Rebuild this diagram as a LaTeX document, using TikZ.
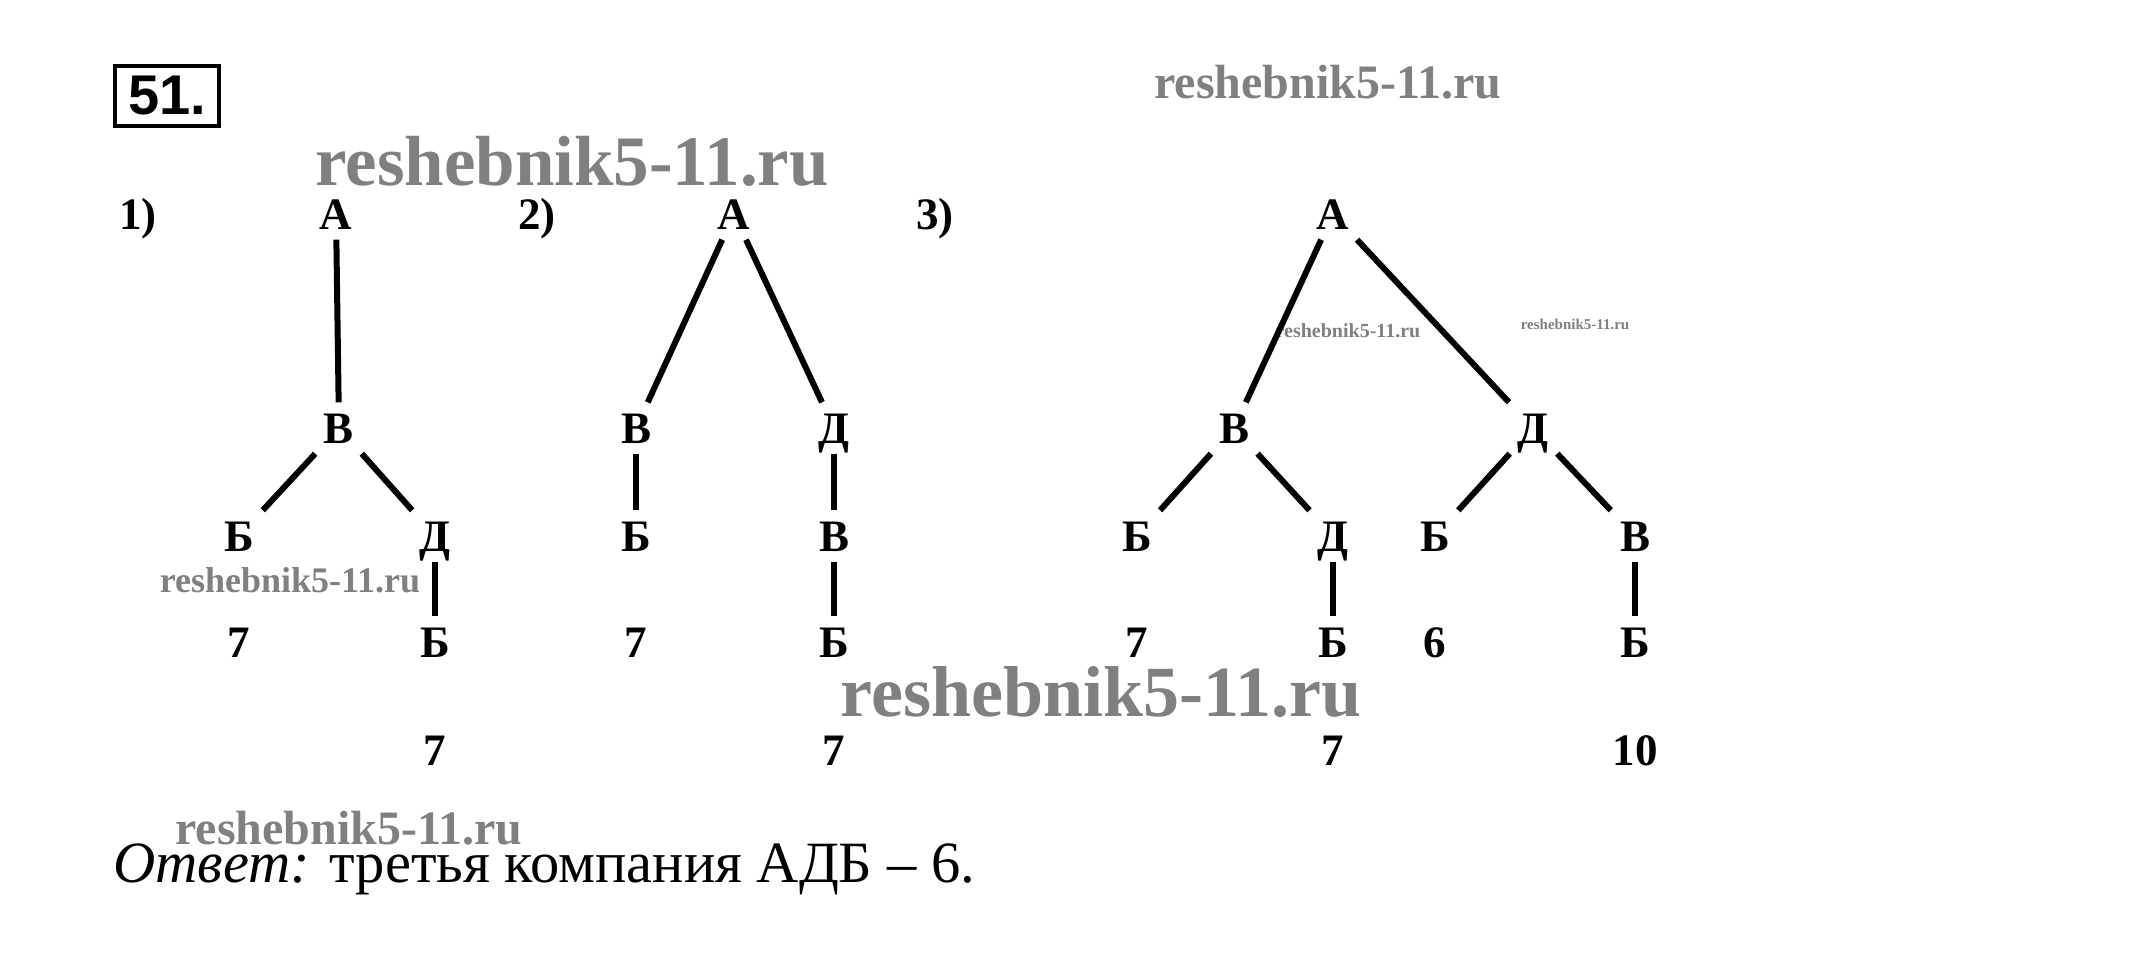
\documentclass[tikz,border=0pt]{standalone}
\usepackage{fontspec}
\setmainfont{Liberation Serif}
\newfontfamily\boxfont{Liberation Sans}
\newcommand*{\WmText}{reshebnik5-11.ru}

\begin{document}
\begin{tikzpicture}[x=1pt,y=-1pt,
    lt/.style={font=\fontsize{45}{45}\selectfont\bfseries, text height=31pt, text depth=0pt, inner sep=10pt},
    edge/.style={line width=6pt},
    wm/.style={text=black!50, font=\fontsize{#1}{#1}\selectfont\bfseries, inner sep=0pt}]
    \useasboundingbox (0,0) rectangle (2143,958);

    \node[draw, line width=4.5pt, minimum width=104pt, minimum height=60pt,
          font=\boxfont\fontsize{56}{56}\selectfont\bfseries, inner sep=0pt] (num) at (167,96) {51.};

    % watermarks
    \node[wm=48] (wmtop) at (1328,82) {\WmText};
    \node[wm=71] (wmbig) at (572,161) {\WmText};
    \node[wm=20] (wmsa) at (1348,331) {\WmText};
    \node[wm=15] (wmsb) at (1575,324) {\WmText};
    \node[wm=36] (wmmid) at (290,580) {\WmText};
    \node[wm=72] (wmlow) at (1101,692) {\WmText};
    \node[wm=48] (wmans) at (349,828) {\WmText};

    \node[lt] (l1) at (138,214) {1)};
    \node[lt] (l2) at (537,214) {2)};
    \node[lt] (l3) at (935,214) {3)};

    % first company
    \node[lt] (a1) at (336,214) {А};
    \node[lt] (v1) at (339,428) {В};
    \node[lt] (b1) at (239,536) {Б};
    \node[lt] (d1) at (435,536) {Д};
    \node[lt] (n1) at (239,642) {7};
    \node[lt] (e1) at (435,642) {Б};
    \node[lt] (m1) at (435,750) {7};
    \draw[edge] (a1) -- (v1);
    \draw[edge] (v1) -- (b1);
    \draw[edge] (v1) -- (d1);
    \draw[edge] (d1) -- (e1);

    % second company
    \node[lt] (a2) at (734,214) {А};
    \node[lt] (v2) at (636,428) {В};
    \node[lt] (d2) at (834,428) {Д};
    \node[lt] (b2) at (636,536) {Б};
    \node[lt] (w2) at (834,536) {В};
    \node[lt] (n2) at (636,642) {7};
    \node[lt] (e2) at (834,642) {Б};
    \node[lt] (m2) at (834,750) {7};
    \draw[edge] (a2) -- (v2);
    \draw[edge] (a2) -- (d2);
    \draw[edge] (v2) -- (b2);
    \draw[edge] (d2) -- (w2);
    \draw[edge] (w2) -- (e2);

    % third company
    \node[lt] (a3) at (1333,214) {А};
    \node[lt] (v3) at (1234,428) {В};
    \node[lt] (d3) at (1533,428) {Д};
    \node[lt] (b3) at (1137,536) {Б};
    \node[lt] (f3) at (1333,536) {Д};
    \node[lt] (c3) at (1435,536) {Б};
    \node[lt] (w3) at (1635,536) {В};
    \node[lt] (n3) at (1137,642) {7};
    \node[lt] (e3) at (1333,642) {Б};
    \node[lt] (s3) at (1435,642) {6};
    \node[lt] (g3) at (1635,642) {Б};
    \node[lt] (m3) at (1333,750) {7};
    \node[lt] (t3) at (1635,750) {10};
    \draw[edge] (a3) -- (v3);
    \draw[edge] (a3) -- (d3);
    \draw[edge] (v3) -- (b3);
    \draw[edge] (v3) -- (f3);
    \draw[edge] (d3) -- (c3);
    \draw[edge] (d3) -- (w3);
    \draw[edge] (f3) -- (e3);
    \draw[edge] (w3) -- (g3);

    \node[anchor=base west, inner sep=0pt, font=\fontsize{58.5}{58.5}\selectfont] (ans) at (113,882)
        {\textit{Ответ:} третья компания АДБ – 6.};
\end{tikzpicture}
\end{document}
